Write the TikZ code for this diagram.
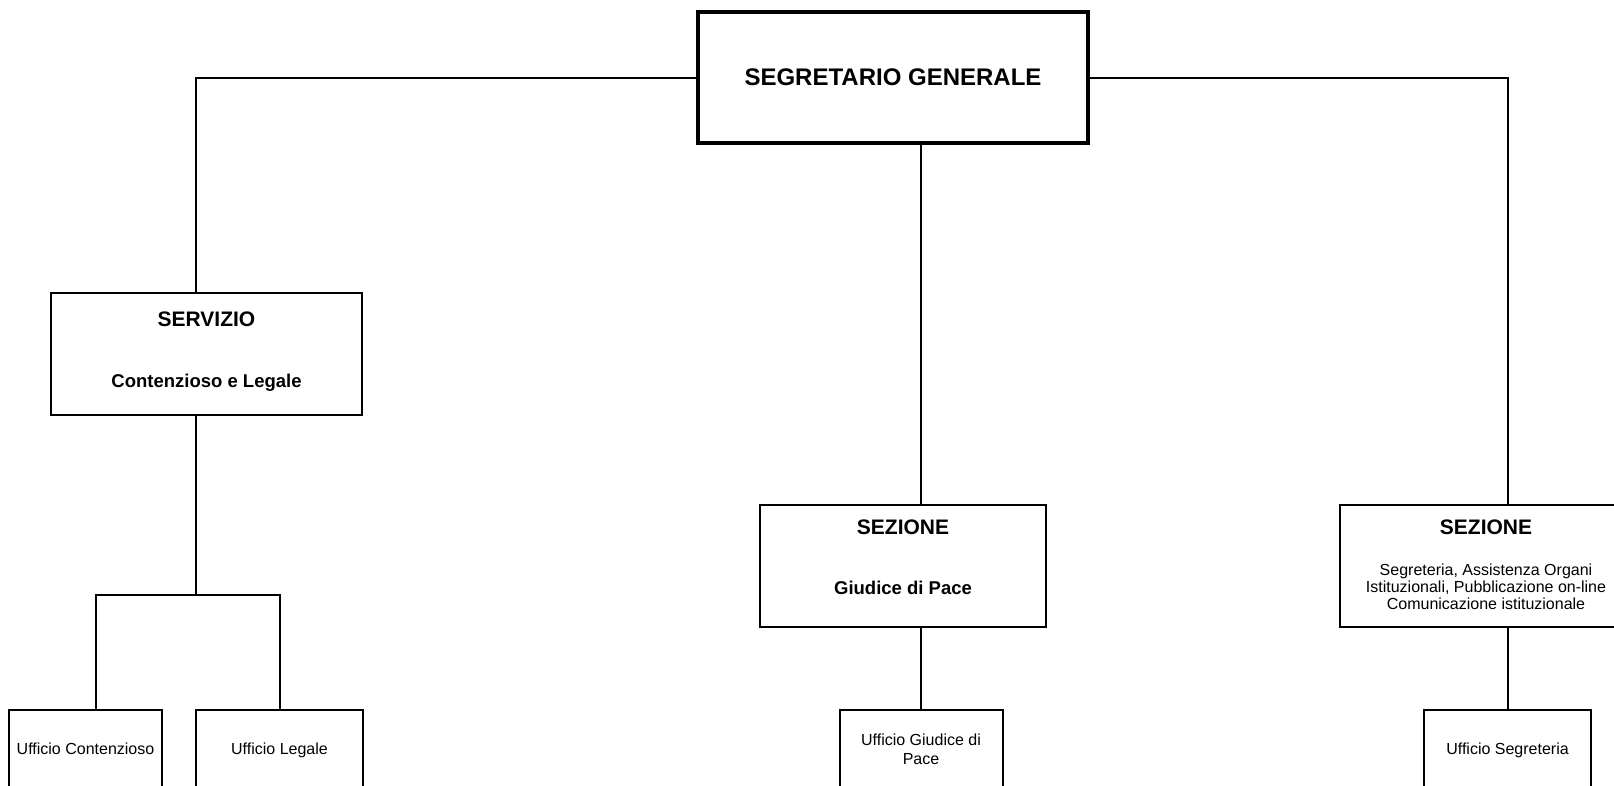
\documentclass[tikz,border=0pt]{standalone}
\usepackage{fontspec}
\setmainfont{Liberation Sans}
\newcommand{\sezhead}[1]{{\bfseries\fontsize{21}{21}\selectfont #1}}

\begin{document}
\begin{tikzpicture}[x=1pt, y=-1pt, line width=2pt,
    box/.style={draw, rectangle, inner sep=2pt, align=center, font=\fontsize{16}{19}\selectfont},
    head/.style={box, minimum height=122pt, font=\bfseries\fontsize{18.5}{22}\selectfont},
    office/.style={box, minimum height=78pt, text depth=0pt}]
    \useasboundingbox (0,0) rectangle (1614,785);
    \clip (0,0) rectangle (1614,785);

    \node[box, line width=3.3pt, minimum width=390pt, minimum height=131pt, font=\bfseries\fontsize{24}{28}\selectfont] (sg) at (893,77.5) {SEGRETARIO GENERALE};

    \node[head, minimum width=311pt, text depth=9pt] (serv) at (206.5,354) {\sezhead{SERVIZIO}\\[39pt]Contenzioso e Legale};
    \node[head, minimum width=286pt, text depth=17pt] (sezG) at (903,566) {\sezhead{SEZIONE}\\[38pt]Giudice di Pace};
    \node[box, minimum width=292pt, minimum height=122pt, text depth=2pt, font=\fontsize{16}{17}\selectfont] (sezS) at (1486,566) {\sezhead{SEZIONE}\\[24pt]Segreteria, Assistenza Organi\\Istituzionali, Pubblicazione on-line\\Comunicazione istituzionale};

    \node[office, minimum width=153pt] (uC) at (85.5,749) {Ufficio Contenzioso};
    \node[office, minimum width=167pt] (uL) at (279.5,749) {Ufficio Legale};
    \node[office, minimum width=163pt] (uGdP) at (921,749) {Ufficio Giudice di\\Pace};
    \node[office, minimum width=167pt] (uSeg) at (1507.5,749) {Ufficio Segreteria};

    \coordinate (jc) at (196,595);
    \coordinate (jl) at (96,595);
    \coordinate (jr) at (279.5,595);

    \draw (sg.west) -| (jc |- serv.north);
    \draw (jc |- serv.south) -- (jc);
    \draw (jl |- uC.north) -- (jl) -- (jr) -- (uL.north);
    \draw (uGdP.north |- sg.south) -- (uGdP.north |- sezG.north);
    \draw (uGdP.north |- sezG.south) -- (uGdP.north);
    \draw (sg.east) -| (uSeg.north |- sezS.north);
    \draw (uSeg.north |- sezS.south) -- (uSeg.north);
\end{tikzpicture}
\end{document}
